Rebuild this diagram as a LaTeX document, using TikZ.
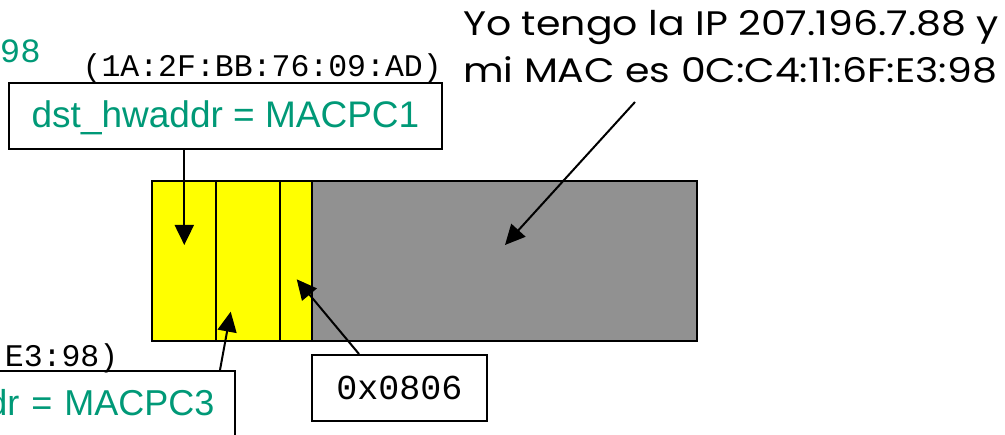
\documentclass[tikz,border=0pt]{standalone}
\usepackage{fontspec}
\setmainfont{Liberation Sans}
\newfontfamily\macfont{Liberation Mono}
\newfontfamily\talkfont[FakeStretch=1.16]{Poppins}
\usepackage{tikz}
\usetikzlibrary{arrows.meta}
\usetikzlibrary{calc}
\usepackage{xcolor}
\definecolor{hwgreen}{RGB}{0,153,119}
\definecolor{hdryellow}{RGB}{255,255,0}
\definecolor{datagray}{RGB}{145,145,145}

\begin{document}
\begin{tikzpicture}[x=1pt,y=1pt]
  \tikzset{field/.style = {shape=rectangle,draw,line width=2pt,minimum height=160pt,inner sep=0pt,outer sep=0pt,fill=hdryellow}}
    \tikzset{datafield/.style = {field,fill=datagray}}
  \tikzset{hwbox/.style = {shape=rectangle,draw,line width=2pt,minimum width=433pt,minimum height=66pt,text=hwgreen,font=\fontsize{37}{40}\selectfont,text height=27pt,text depth=3pt}}
    \tikzset{typebox/.style = {shape=rectangle,draw,line width=2pt,minimum width=175pt,minimum height=66pt,font=\macfont\fontsize{35}{38}\selectfont}}
  \tikzset{mac/.style = {inner sep=0pt,font=\macfont\fontsize{31.5}{34}\selectfont}}
  \tikzset{talk/.style = {inner sep=0pt,align=left,font=\talkfont\fontsize{34}{47}\selectfont}}
  \tikzset{pointer/.style = {line width=2pt}}
  \tikzset{%
  bigtip/.tip={Triangle[length=20pt,width=19pt]},
}

  \path[use as bounding box] (0,0) rectangle (1005,435);
  \clip (0,0) rectangle (1005,435);

	\node[field, minimum width=64.3pt] (dst) at (184.15,174) {};
	\node[field, minimum width=63.7pt] (src) at (248.15,174) {};
	\node[field, minimum width=32.3pt] (type) at (296.15,174) {};
	\node[datafield, minimum width=384.7pt] (data) at (504.65,174) {};

	\node[hwbox] (hwdst) at (225.5,319) {dst\_hwaddr = MACPC1};
	\node[hwbox, text width=392pt, align=right, inner xsep=20.5pt, font=\fontsize{36}{40}\selectfont] (hwsrc) at (18.5,31) {dr = MACPC3};
	\node[typebox] (typ) at (399.5,47) {0x0806};

	\node[mac, anchor=base east] (macdst) at (442,358) {(1A:2F:BB:76:09:AD)};
	\node[mac, anchor=base east] (macsrc) at (118.5,68) {:E3:98)};
	\node[mac, anchor=base east, text=hwgreen, font=\macfont\fontsize{34}{36}\selectfont] (macold) at (41,372) {98};

	\node[talk, anchor=north west] (msg) at (463,425) {Yo tengo la IP 207.196.7.88 y\\mi MAC es 0C:C4:11:6F:E3:98};

	\coordinate (dsttip) at (184.3,190);
	\coordinate (srctip) at (230.7,123.3);
	\coordinate (typetip) at (296.7,155.7);
	\coordinate (datatip) at (505,190);
	\coordinate (dstfoot) at (hwdst.south -| dsttip);
	\coordinate (srcfoot) at ($(hwsrc.north east)+(-16,0)$);
	\coordinate (typefoot) at ($(typ.north west)+(48,0)$);
	\coordinate (msgfoot) at (635,333);

    \foreach \from/\to in {dstfoot/dsttip,srcfoot/srctip,typefoot/typetip,msgfoot/datatip}
    \path[pointer,-bigtip](\from) edge (\to);

\end{tikzpicture}
\end{document}
